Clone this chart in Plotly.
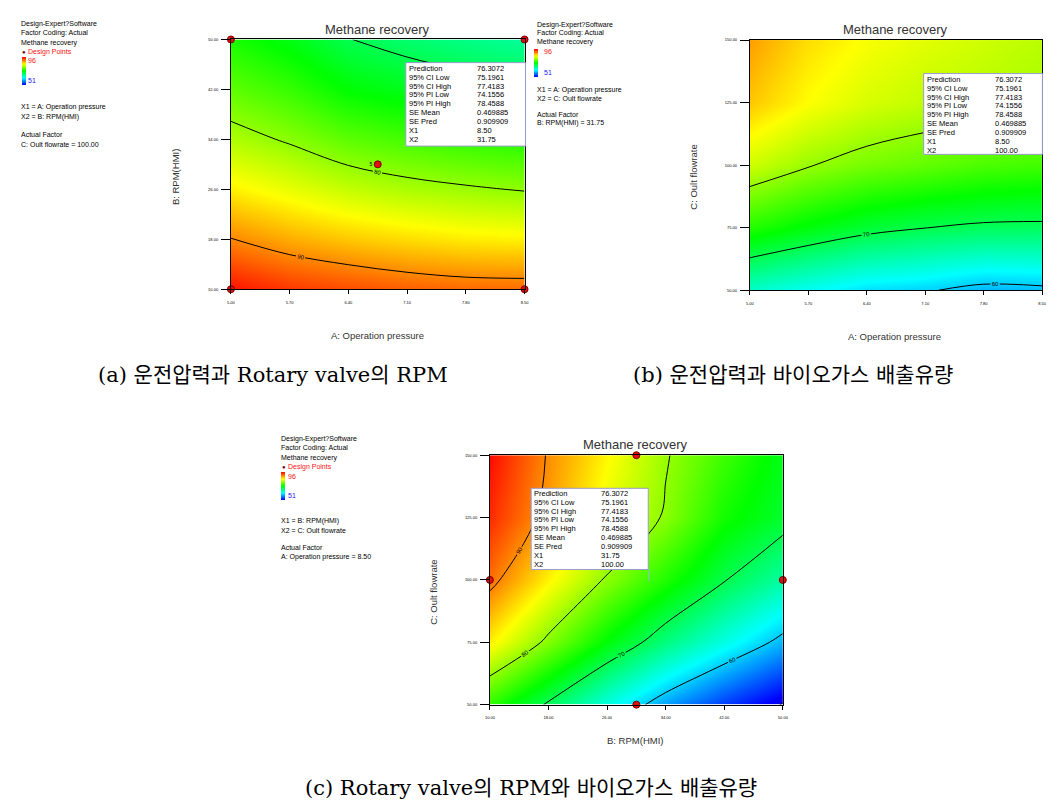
import plotly.graph_objects as go

W, H = 1059, 809

# ------------------------------------------------------------------ data
A_PRESSURE = [5.00, 5.70, 6.40, 7.10, 7.80, 8.50]        # A: Operation pressure
B_RPM = [10.00, 18.00, 26.00, 34.00, 42.00, 50.00]       # B: RPM(HMI)
C_FLOW = [50.00, 75.00, 100.00, 125.00, 150.00]          # C: Oult flowrate

# (a) Methane recovery, rows = B_RPM, cols = A_PRESSURE (C = 100)
Z_AB = [
    [95.2, 93.6, 92.7, 91.9, 91.4, 91.3],
    [90.1, 88.4, 87.2, 86.3, 85.6, 85.3],
    [85.4, 83.8, 82.2, 81.1, 80.4, 79.8],
    [81.3, 79.6, 77.6, 76.5, 75.6, 74.9],
    [77.7, 75.9, 73.4, 72.4, 71.4, 70.5],
    [74.6, 72.7, 70.1, 68.7, 67.6, 66.7],
]
# (b) rows = C_FLOW, cols = A_PRESSURE (B = 31.75)
Z_AC = [
    [64.6, 62.7, 60.9, 60.3, 59.0, 59.3],
    [75.0, 72.9, 71.1, 70.05, 69.4, 69.3],
    [82.6, 80.2, 78.7, 77.8, 76.8, 76.3],
    [87.2, 84.7, 83.0, 82.0, 81.4, 80.6],
    [89.0, 86.2, 84.5, 83.5, 82.6, 81.7],
]
# (c) rows = C_FLOW, cols = B_RPM (A = 8.50)
Z_BC = [
    [75.5, 69.5, 63.6, 58.1, 53.7, 49.8],
    [85.3, 79.2, 73.2, 67.9, 63.4, 59.0],
    [91.0, 85.1, 79.6, 74.8, 70.2, 66.2],
    [94.1, 88.9, 83.7, 79.6, 74.3, 71.5],
    [95.5, 89.7, 85.0, 80.3, 76.2, 72.5],
]
Z_MIN, Z_MAX = 51, 96

# design points
DP_A_X = [5.00, 5.00, 8.50, 8.50, 6.75]
DP_A_Y = [10.0, 50.0, 10.0, 50.0, 30.0]
DP_A_TXT = ["", "", "", "", "5"]
DP_C_X = [30.0, 30.0, 10.0, 50.0]
DP_C_Y = [150.0, 50.0, 100.0, 100.0]

INFO_LABELS = ["Prediction", "95% CI Low", "95% CI High", "95% PI Low", "95% PI High",
               "SE Mean", "SE Pred", "X1", "X2"]
INFO_COMMON = ["76.3072", "75.1961", "77.4183", "74.1556", "78.4588", "0.469885", "0.909909"]
INFO_X_A = ["8.50", "31.75"]
INFO_X_B = ["8.50", "100.00"]
INFO_X_C = ["31.75", "100.00"]

CAPTION_A = "(a) 운전압력과 Rotary valve의 RPM"
CAPTION_B = "(b) 운전압력과 바이오가스 배출유량"
CAPTION_C = "(c) Rotary valve의 RPM와 바이오가스 배출유량"

# ------------------------------------------------------------------ style
CS = [[0.0, "#0000ff"], [0.25, "#00ffff"], [0.5, "#00ff00"], [0.75, "#ffff00"], [1.0, "#ff0000"]]
SANS = "Arial, Liberation Sans, sans-serif"
SERIF = "DejaVu Serif, Noto Sans CJK KR, serif"


def px(x):
    return x / W


def py(y):
    return 1 - y / H


fig = go.Figure()


def add_panel(x, y, z, xa, ya, lv0, lv1, bar):
    bx, by = bar
    fig.add_trace(go.Heatmap(
        x=x, y=y, z=z, zmin=Z_MIN, zmax=Z_MAX, colorscale=CS, zsmooth="best",
        xaxis=xa, yaxis=ya, hoverinfo="skip", showscale=True,
        colorbar=dict(x=px(bx), xanchor="left", y=py(by), yanchor="top",
                      len=28, lenmode="pixels", thickness=4, thicknessmode="pixels",
                      xpad=0, ypad=0, outlinewidth=0, showticklabels=False, ticks="")))
    fig.add_trace(go.Contour(
        x=x, y=y, z=z, xaxis=xa, yaxis=ya, showscale=False, hoverinfo="skip",
        contours=dict(coloring="none", start=lv0, end=lv1, size=10, showlabels=True,
                      labelfont=dict(size=6, color="black", family=SANS)),
        line=dict(color="black", width=1, smoothing=1.0)))


add_panel(A_PRESSURE, B_RPM, Z_AB, "x", "y", 70, 90, (17.5, 54))
add_panel(A_PRESSURE, C_FLOW, Z_AC, "x2", "y2", 60, 80, (534.5, 46))
add_panel(B_RPM, C_FLOW, Z_BC, "x3", "y3", 50, 90, (279, 472))

MARK = dict(size=7, color="#e01010", line=dict(color="#800000", width=1))
fig.add_trace(go.Scatter(x=DP_A_X, y=DP_A_Y, text=DP_A_TXT, mode="markers+text",
                         textposition="middle left", textfont=dict(size=5, color="black", family=SANS),
                         marker=MARK, xaxis="x", yaxis="y", cliponaxis=False, hoverinfo="skip"))
fig.add_trace(go.Scatter(x=DP_C_X, y=DP_C_Y, mode="markers", marker=MARK,
                         xaxis="x3", yaxis="y3", cliponaxis=False, hoverinfo="skip"))


def axis(domain, anchor, rng, ticks, ticklen, standoff):
    return dict(domain=domain, anchor=anchor, range=rng, tickvals=ticks,
                ticktext=[f"{t:.2f}" for t in ticks], tickfont=dict(size=4, family=SANS, color="black"),
                ticks="outside", ticklen=ticklen, tickwidth=1, tickcolor="black",
                showline=True, linecolor="black", linewidth=1, mirror=True,
                showgrid=False, zeroline=False, ticklabelstandoff=standoff, fixedrange=True)


layout = dict(
    width=W, height=H, autosize=False, margin=dict(l=0, r=0, t=0, b=0),
    paper_bgcolor="white", plot_bgcolor="white", showlegend=False,
    xaxis=axis([px(228.3), px(525)], "y", [5, 8.5], A_PRESSURE, 4, 5),
    yaxis=axis([py(288), py(36.7)], "x", [10, 50], B_RPM, 9, 2),
    xaxis2=axis([px(752.7), px(1048)], "y2", [5, 8.5], A_PRESSURE, 4, 5),
    yaxis2=axis([py(289), py(37.3)], "x2", [50, 150], C_FLOW, 9, 2),
    xaxis3=axis([px(490), px(786)], "y3", [10, 50], B_RPM, 4, 5),
    yaxis3=axis([py(706), py(455)], "x3", [50, 150], C_FLOW, 9, 2),
)
fig.update_layout(**layout)

ann = []
shapes = []


def txt(x, y, s, size=7, color="black", xanchor="left", family=SANS, angle=0):
    ann.append(dict(x=px(x), y=py(y), xref="paper", yref="paper", text=s, showarrow=False,
                    xanchor=xanchor, yanchor="middle", textangle=angle,
                    font=dict(size=size, color=color, family=family), borderpad=0))


# titles and axis titles
for cx, cy in [(376, 27), (900, 27), (637, 444)]:
    txt(cx, cy, "Methane recovery", size=13, color="#333333", xanchor="center")
txt(376, 335, "A: Operation pressure", size=9.5, color="#333333", xanchor="center")
txt(173, 175, "B: RPM(HMI)", size=9.5, color="#333333", xanchor="center", angle=-90)
txt(899, 336, "A: Operation pressure", size=9.5, color="#333333", xanchor="center")
txt(696, 175, "C: Oult flowrate", size=9.5, color="#333333", xanchor="center", angle=-90)
txt(637, 742, "B: RPM(HMI)", size=9.5, color="#333333", xanchor="center")
txt(433, 593, "C: Oult flowrate", size=9.5, color="#333333", xanchor="center", angle=-90)

# side legends
RED, BLUE = "#ff1010", "#2020ff"


def legend_block(x0, lines, dp_y, bar_labels, x_lines, fac_lines):
    for s, yy in lines:
        txt(x0, yy, s)
    if dp_y is not None:
        txt(x0 + 1, dp_y, "●", size=6, color="#700000")
        txt(x0 + 7, dp_y, "Design Points", color=RED)
    (y96, y51) = bar_labels
    txt(x0 + 7, y96, "96", color=RED)
    txt(x0 + 7, y51, "51", color=BLUE)
    for s, yy in x_lines + fac_lines:
        txt(x0, yy, s)


legend_block(15, [("Design-Expert?Software", 21), ("Factor Coding: Actual", 30.5),
                  ("Methane recovery", 40)], 49.3, (57.5, 77.5),
             [("X1 = A: Operation pressure", 105), ("X2 = B: RPM(HMI)", 114.3)],
             [("Actual Factor", 132.5), ("C: Oult flowrate = 100.00", 142)])
legend_block(537, [("Design-Expert?Software", 22), ("Factor Coding: Actual", 30.5),
                   ("Methane recovery", 39)], None, (49, 70),
             [("X1 = A: Operation pressure", 87.5), ("X2 = C: Oult flowrate", 96)],
             [("Actual Factor", 112), ("B: RPM(HMI) = 31.75", 120.5)])
legend_block(278, [("Design-Expert?Software", 439), ("Factor Coding: Actual", 448),
                   ("Methane recovery", 458)], 467.3, (476, 495.5),
             [("X1 = B: RPM(HMI)", 521.7), ("X2 = C: Oult flowrate", 530.7)],
             [("Actual Factor", 548.3), ("A: Operation pressure = 8.50", 557.3)])


# prediction boxes
def info_box(x0, y0, x1, y1, ty0, cx1, xs):
    shapes.append(dict(type="rect", xref="paper", yref="paper", x0=px(x0), x1=px(x1),
                       y0=py(y1), y1=py(y0), fillcolor="white",
                       line=dict(color="#9a9ad0", width=1), layer="above"))
    vals = INFO_COMMON + xs
    for i, (lab, v) in enumerate(zip(INFO_LABELS, vals)):
        yy = ty0 + i * 8.95
        txt(x0 + 2, yy, lab, size=7.5)
        txt(cx1, yy, v, size=7.5)


info_box(405, 60, 526, 144, 65.7, 476, INFO_X_A)
info_box(928.3, 71, 1048.3, 152.3, 76.7, 999.3, INFO_X_B)
info_box(531.7, 488.3, 650, 570, 493.3, 601.7, INFO_X_C)
# pointer line under box (c)
shapes.append(dict(type="line", xref="paper", yref="paper", x0=px(650.5), x1=px(650.5),
                   y0=py(582), y1=py(570), line=dict(color="#9ab8e0", width=1), layer="above"))

# captions
txt(271, 374, CAPTION_A, size=21, family=SERIF, xanchor="center")
txt(796, 374, CAPTION_B, size=21, family=SERIF, xanchor="center")
txt(532, 790, CAPTION_C, size=21, family=SERIF, xanchor="center")

fig.update_layout(annotations=ann, shapes=shapes)
fig.write_html("out.html")
